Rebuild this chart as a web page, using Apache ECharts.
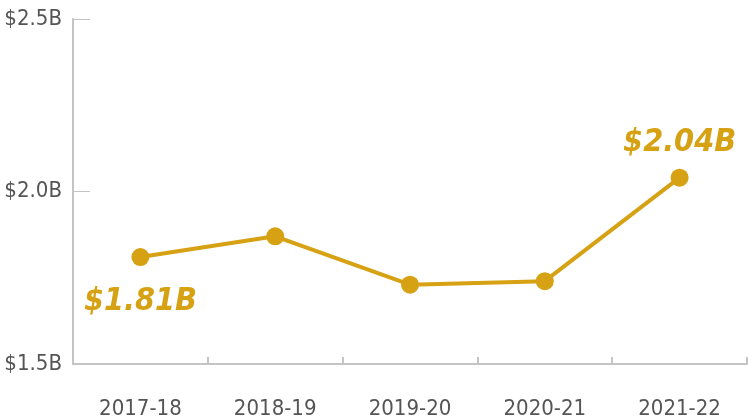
<!DOCTYPE html>
<html>
<head>
<meta charset="utf-8">
<script src="https://cdn.jsdelivr.net/npm/echarts@6/dist/echarts.min.js"></script>
<style>
  html, body { margin: 0; padding: 0; background: #fff; }
  #chart { width: 748px; height: 419px; }
</style>
</head>
<body>
<div id="chart"></div>
<script>
  const years = ['2017-18', '2018-19', '2019-20', '2020-21', '2021-22'];
  const funding = [1.81, 1.87, 1.73, 1.74, 2.04];
  const yTicks = [1.5, 2.0, 2.5];
  const labelled = { 0: ['bottom', 20], 4: ['top', 10] };

  const gold = '#d6a112';
  const narrow = "'DejaVu Sans Condensed', 'Liberation Sans Narrow', Roboto, sans-serif";

  const chart = echarts.init(document.getElementById('chart'));
  const option = {
    animation: false,
    grid: { left: 73, right: 1, top: 19, bottom: 55, outerBoundsMode: 'none', containLabel: false },
    xAxis: {
      type: 'category',
      data: years,
      boundaryGap: true,
      axisLine: { lineStyle: { color: '#c4c4c4', width: 2 } },
      axisTick: { show: true, inside: true, length: 7, interval: 0, lineStyle: { color: '#c4c4c4', width: 2 } },
      axisLabel: { color: '#555', fontSize: 22, fontFamily: narrow, margin: 34 }
    },
    yAxis: {
      type: 'value',
      min: yTicks[0],
      max: yTicks[yTicks.length - 1],
      interval: 0.5,
      splitLine: { show: false },
      axisLine: { show: true, lineStyle: { color: '#c4c4c4', width: 2 } },
      axisTick: { show: true, inside: true, length: 17, lineStyle: { color: '#c4c4c4', width: 1 } },
      axisLabel: {
        color: '#555', fontSize: 22, fontFamily: narrow, margin: 11,
        formatter: function(v) { return '$' + v.toFixed(1) + 'B'; }
      }
    },
    series: [
      {
        type: 'line',
        data: funding.map(function(v, i) {
          const item = { value: v };
          if (labelled[i]) {
            item.label = {
              show: true,
              position: labelled[i][0],
              distance: labelled[i][1],
              formatter: '$' + v.toFixed(2) + 'B',
              color: gold,
              fontSize: 32,
              fontWeight: 'bold',
              fontStyle: 'italic',
              fontFamily: narrow
            };
          }
          return item;
        }),
        symbol: 'circle',
        symbolSize: 18,
        lineStyle: { color: gold, width: 4 },
        itemStyle: { color: gold }
      }
    ]
  };
  chart.setOption(option);
</script>
</body>
</html>
